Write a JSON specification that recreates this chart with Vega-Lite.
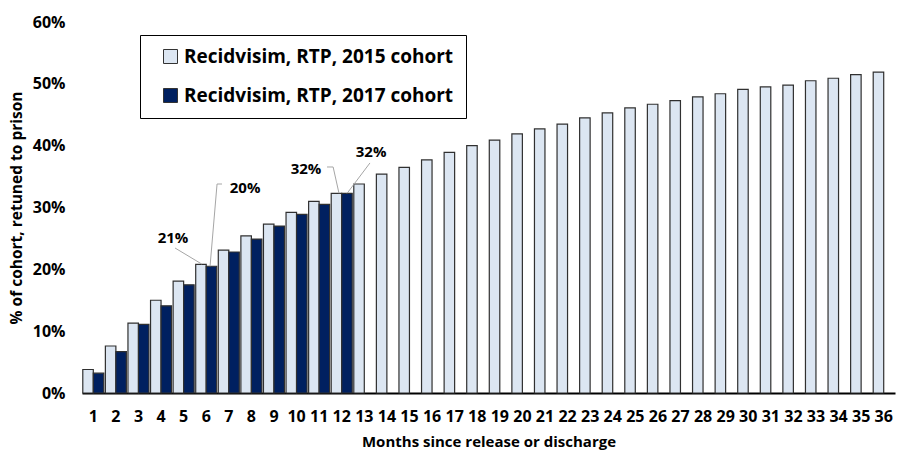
{
  "$schema": "https://vega.github.io/schema/vega-lite/v6.json",
  "width": 813,
  "height": 371,
  "autosize": {"type": "none"},
  "padding": {"left": 82, "top": 22, "right": 12, "bottom": 58},
  "background": "white",
  "config": {
    "view": {"stroke": null},
    "font": "Open Sans",
    "axis": {"labelFont": "Open Sans", "labelFontWeight": "bold", "labelFontSize": 16, "labelColor": "#000", "titleFont": "Open Sans", "titleFontWeight": "bold", "titleFontSize": 15, "titleColor": "#000"}
  },
  "datasets": {
    "bars": [
      {"month": 1, "cohort": "Recidvisim, RTP, 2015 cohort", "rate": 0.038},
      {"month": 2, "cohort": "Recidvisim, RTP, 2015 cohort", "rate": 0.076},
      {"month": 3, "cohort": "Recidvisim, RTP, 2015 cohort", "rate": 0.113},
      {"month": 4, "cohort": "Recidvisim, RTP, 2015 cohort", "rate": 0.150},
      {"month": 5, "cohort": "Recidvisim, RTP, 2015 cohort", "rate": 0.181},
      {"month": 6, "cohort": "Recidvisim, RTP, 2015 cohort", "rate": 0.208},
      {"month": 7, "cohort": "Recidvisim, RTP, 2015 cohort", "rate": 0.231},
      {"month": 8, "cohort": "Recidvisim, RTP, 2015 cohort", "rate": 0.254},
      {"month": 9, "cohort": "Recidvisim, RTP, 2015 cohort", "rate": 0.273},
      {"month": 10, "cohort": "Recidvisim, RTP, 2015 cohort", "rate": 0.292},
      {"month": 11, "cohort": "Recidvisim, RTP, 2015 cohort", "rate": 0.310},
      {"month": 12, "cohort": "Recidvisim, RTP, 2015 cohort", "rate": 0.323},
      {"month": 13, "cohort": "Recidvisim, RTP, 2015 cohort", "rate": 0.338},
      {"month": 14, "cohort": "Recidvisim, RTP, 2015 cohort", "rate": 0.354},
      {"month": 15, "cohort": "Recidvisim, RTP, 2015 cohort", "rate": 0.365},
      {"month": 16, "cohort": "Recidvisim, RTP, 2015 cohort", "rate": 0.377},
      {"month": 17, "cohort": "Recidvisim, RTP, 2015 cohort", "rate": 0.389},
      {"month": 18, "cohort": "Recidvisim, RTP, 2015 cohort", "rate": 0.400},
      {"month": 19, "cohort": "Recidvisim, RTP, 2015 cohort", "rate": 0.409},
      {"month": 20, "cohort": "Recidvisim, RTP, 2015 cohort", "rate": 0.419},
      {"month": 21, "cohort": "Recidvisim, RTP, 2015 cohort", "rate": 0.427},
      {"month": 22, "cohort": "Recidvisim, RTP, 2015 cohort", "rate": 0.435},
      {"month": 23, "cohort": "Recidvisim, RTP, 2015 cohort", "rate": 0.445},
      {"month": 24, "cohort": "Recidvisim, RTP, 2015 cohort", "rate": 0.453},
      {"month": 25, "cohort": "Recidvisim, RTP, 2015 cohort", "rate": 0.461},
      {"month": 26, "cohort": "Recidvisim, RTP, 2015 cohort", "rate": 0.467},
      {"month": 27, "cohort": "Recidvisim, RTP, 2015 cohort", "rate": 0.473},
      {"month": 28, "cohort": "Recidvisim, RTP, 2015 cohort", "rate": 0.479},
      {"month": 29, "cohort": "Recidvisim, RTP, 2015 cohort", "rate": 0.484},
      {"month": 30, "cohort": "Recidvisim, RTP, 2015 cohort", "rate": 0.491},
      {"month": 31, "cohort": "Recidvisim, RTP, 2015 cohort", "rate": 0.495},
      {"month": 32, "cohort": "Recidvisim, RTP, 2015 cohort", "rate": 0.498},
      {"month": 33, "cohort": "Recidvisim, RTP, 2015 cohort", "rate": 0.505},
      {"month": 34, "cohort": "Recidvisim, RTP, 2015 cohort", "rate": 0.509},
      {"month": 35, "cohort": "Recidvisim, RTP, 2015 cohort", "rate": 0.515},
      {"month": 36, "cohort": "Recidvisim, RTP, 2015 cohort", "rate": 0.519},
      {"month": 1, "cohort": "Recidvisim, RTP, 2017 cohort", "rate": 0.032},
      {"month": 2, "cohort": "Recidvisim, RTP, 2017 cohort", "rate": 0.067},
      {"month": 3, "cohort": "Recidvisim, RTP, 2017 cohort", "rate": 0.111},
      {"month": 4, "cohort": "Recidvisim, RTP, 2017 cohort", "rate": 0.141},
      {"month": 5, "cohort": "Recidvisim, RTP, 2017 cohort", "rate": 0.175},
      {"month": 6, "cohort": "Recidvisim, RTP, 2017 cohort", "rate": 0.205},
      {"month": 7, "cohort": "Recidvisim, RTP, 2017 cohort", "rate": 0.228},
      {"month": 8, "cohort": "Recidvisim, RTP, 2017 cohort", "rate": 0.249},
      {"month": 9, "cohort": "Recidvisim, RTP, 2017 cohort", "rate": 0.270},
      {"month": 10, "cohort": "Recidvisim, RTP, 2017 cohort", "rate": 0.289},
      {"month": 11, "cohort": "Recidvisim, RTP, 2017 cohort", "rate": 0.305},
      {"month": 12, "cohort": "Recidvisim, RTP, 2017 cohort", "rate": 0.323}
    ],
    "labels": [
      {"label": "21%", "pos": 4.53, "rate": 0.2507},
      {"label": "20%", "pos": 7.72, "rate": 0.3315},
      {"label": "32%", "pos": 10.42, "rate": 0.3623},
      {"label": "32%", "pos": 13.30, "rate": 0.3898}
    ],
    "leaders": [
      {"id": "a", "seq": 1, "pos": 4.62, "rate": 0.2345},
      {"id": "a", "seq": 2, "pos": 5.80, "rate": 0.2086},
      {"id": "b", "seq": 1, "pos": 6.70, "rate": 0.338},
      {"id": "b", "seq": 2, "pos": 6.48, "rate": 0.338},
      {"id": "b", "seq": 3, "pos": 6.17, "rate": 0.205},
      {"id": "c", "seq": 1, "pos": 11.35, "rate": 0.3655},
      {"id": "c", "seq": 2, "pos": 11.62, "rate": 0.3655},
      {"id": "c", "seq": 3, "pos": 11.88, "rate": 0.323},
      {"id": "d", "seq": 1, "pos": 13.25, "rate": 0.372},
      {"id": "d", "seq": 2, "pos": 12.24, "rate": 0.323}
    ]
  },
  "layer": [
    {
      "data": {"name": "bars"},
      "mark": {"type": "bar", "stroke": "#303030", "strokeWidth": 1.2},
      "encoding": {
        "x": {
          "field": "month", "type": "ordinal",
          "scale": {"paddingInner": 0.07, "paddingOuter": 0.035},
          "axis": {"title": "Months since release or discharge", "labelAngle": 0, "ticks": false, "domainColor": "#000", "domainWidth": 2, "labelPadding": 15, "titlePadding": 10}
        },
        "xOffset": {"field": "cohort", "type": "nominal", "scale": {"domain": ["Recidvisim, RTP, 2015 cohort", "Recidvisim, RTP, 2017 cohort"], "paddingInner": 0, "paddingOuter": 0}},
        "y": {
          "field": "rate", "type": "quantitative",
          "scale": {"domain": [0, 0.6]},
          "axis": {"title": "% of cohort, retuned to prison", "titleFontSize": 15.5, "format": ".0%", "values": [0, 0.1, 0.2, 0.3, 0.4, 0.5, 0.6], "grid": false, "domain": false, "ticks": false, "labelPadding": 17, "titlePadding": 8}
        },
        "color": {
          "field": "cohort", "type": "nominal",
          "scale": {"domain": ["Recidvisim, RTP, 2015 cohort", "Recidvisim, RTP, 2017 cohort"], "range": ["#DCE6F2", "#002060"]},
          "legend": {
            "title": null, "orient": "none", "legendX": 58, "legendY": 13,
            "strokeColor": "#000", "fillColor": "#fff", "padding": 12, "symbolOffset": 9,
            "symbolType": "square", "symbolSize": 196, "symbolStrokeColor": "#333", "symbolStrokeWidth": 1,
            "labelFont": "Open Sans", "labelFontWeight": "bold", "labelFontSize": 19, "labelColor": "#000",
            "labelOffset": 4, "rowPadding": 19, "labelLimit": 500
          }
        }
      }
    },
    {
      "data": {"name": "leaders"},
      "mark": {"type": "line", "color": "#A6A6A6", "strokeWidth": 1},
      "encoding": {
        "x": {"field": "pos", "type": "quantitative", "scale": {"domain": [0.5, 36.5], "nice": false, "zero": false}, "axis": null},
        "y": {"field": "rate", "type": "quantitative"},
        "detail": {"field": "id"},
        "order": {"field": "seq"}
      }
    },
    {
      "data": {"name": "labels"},
      "mark": {"type": "text", "font": "Open Sans", "fontWeight": "bold", "fontSize": 15, "color": "#000"},
      "encoding": {
        "x": {"field": "pos", "type": "quantitative", "scale": {"domain": [0.5, 36.5], "nice": false, "zero": false}, "axis": null},
        "y": {"field": "rate", "type": "quantitative"},
        "text": {"field": "label"}
      }
    }
  ],
  "resolve": {"scale": {"x": "independent"}}
}
